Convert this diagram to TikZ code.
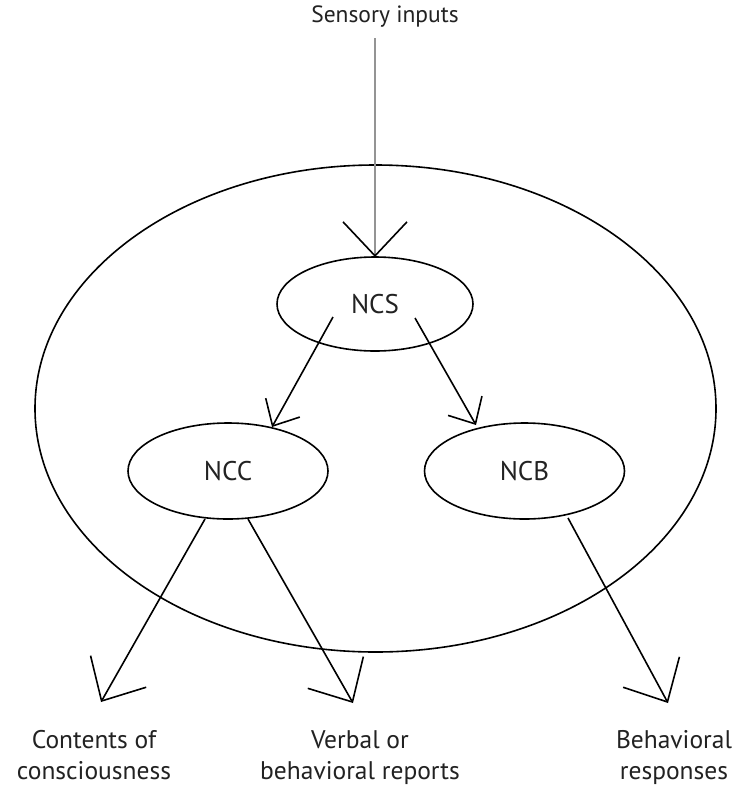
\documentclass[tikz,border=0pt]{standalone}
\usepackage{fontspec}
\setmainfont{PT Sans}
\usetikzlibrary{arrows.meta,shapes.geometric}
\definecolor{ink}{HTML}{222222}
\tikzset{
  oval/.style={draw=black,line width=1.6pt,ellipse,inner sep=0pt,outer sep=0pt},
  small/.style={oval,minimum width=200pt,minimum height=96pt,font=\fontsize{27}{30}\selectfont,text=ink},
  lbl/.style={align=center,font=\fontsize{25.5}{31}\selectfont,text=ink,inner sep=0pt},
  toplbl/.style={font=\fontsize{23.5}{28}\selectfont,text=ink,inner sep=0pt},
  bigtip/.style={-{Straight Barb[length=34pt,width=64pt]}},
  smalltip/.style={-{Straight Barb[length=21pt,width=39pt]}},
  conn/.style={draw=black,line width=1.6pt},
}
\begin{document}
\begin{tikzpicture}[x=1pt,y=-1pt]
\useasboundingbox[fill=white] (0,0) rectangle (734,793);
% outer ellipse
\node[oval,minimum width=681pt,minimum height=487pt] (big) at (375.5,408.5) {};
% inner ellipses
\node[small,minimum width=196pt,minimum height=94pt] (ncs) at (375,304) {NCS};
\node[small] (ncc) at (228,471) {NCC};
\node[small] (ncb) at (524.5,471) {NCB};
% texts
\node[toplbl,anchor=base] (sens) at (385,22) {Sensory inputs};
\node[lbl,anchor=north] (cont) at (94,730) {Contents of\\consciousness};
\node[lbl,anchor=north] (verb) at (360,730) {Verbal or\\behavioral reports};
\node[lbl,anchor=north] (beh) at (674,730) {Behavioral\\responses};
% arrow tip coordinates
\coordinate (contTip) at (101,702);
\coordinate (verbTip) at (353,703);
\coordinate (behTip) at (668,703);
\coordinate (sensTop) at (375,38);
% connectors
\draw[line width=2.8pt,draw=black!42,-{Straight Barb[length=34pt,width=64pt,line width=1.6pt,color=black]}]
  (sensTop) -- (ncs.north);
\draw[conn,smalltip] ([shift={(-42,13)}]ncs.center) -- ([shift={(44,-44)}]ncc.center);
\draw[conn,smalltip] ([shift={(40,14)}]ncs.center) -- ([shift={(-48.5,-46)}]ncb.center);
\draw[conn,bigtip] ([shift={(-23,48)}]ncc.center) -- (contTip);
\draw[conn,bigtip] ([shift={(20,48)}]ncc.center) -- (verbTip);
\draw[conn,bigtip] ([shift={(43.5,47)}]ncb.center) -- (behTip);
\end{tikzpicture}
\end{document}
